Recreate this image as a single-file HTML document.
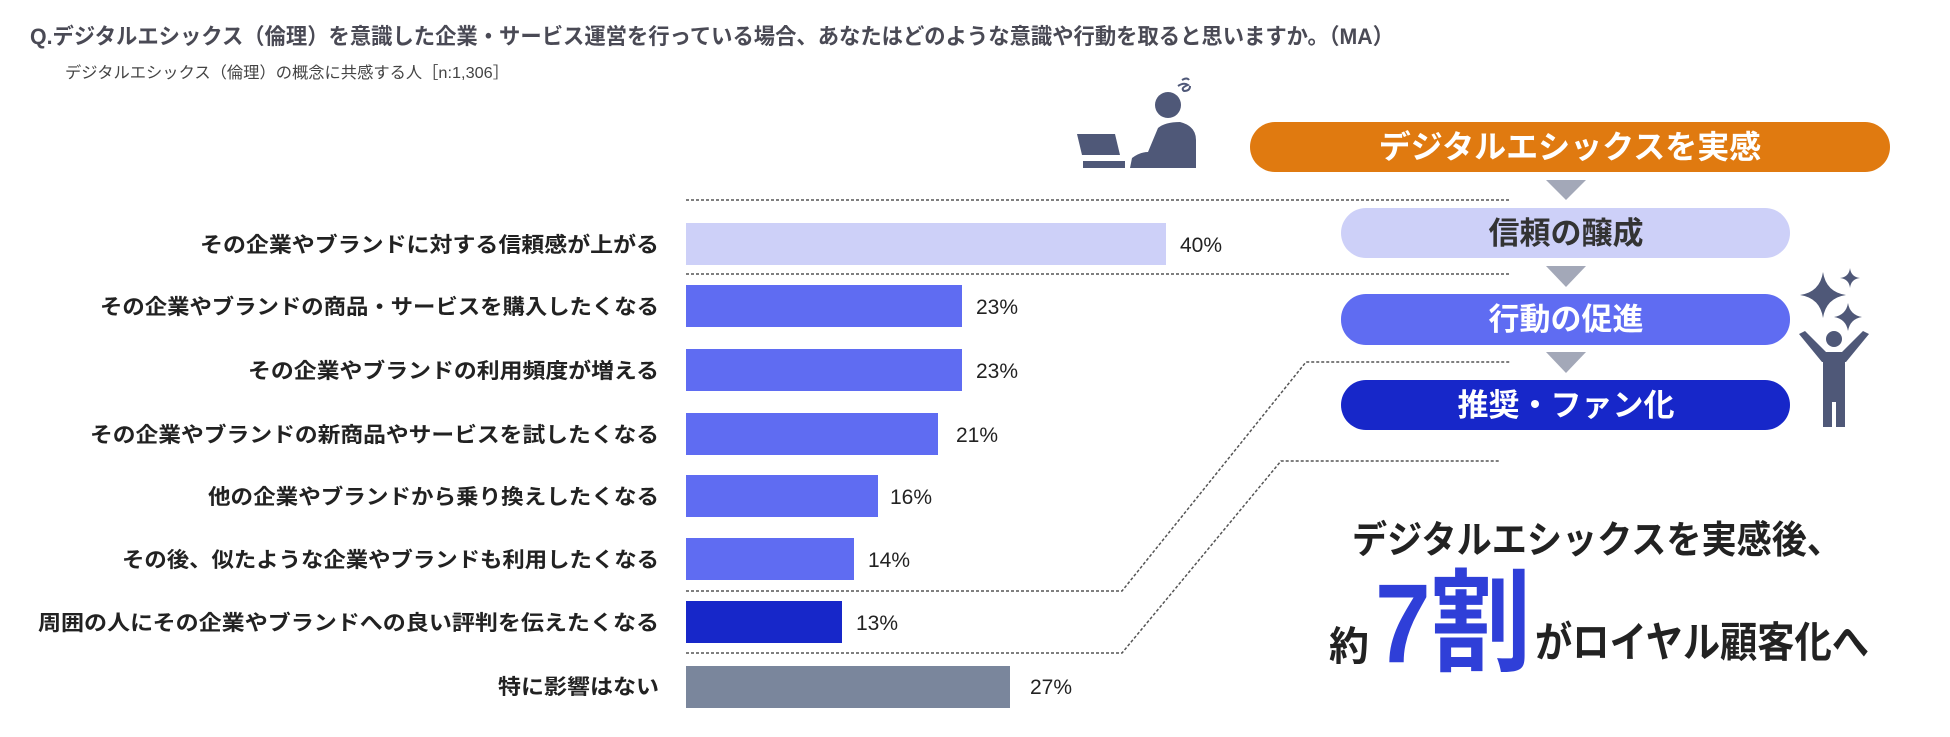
<!DOCTYPE html>
<html><head><meta charset="utf-8"><style>
html,body{margin:0;padding:0;background:#fff;}
svg{display:block;}
text{font-family:"Liberation Sans","Noto Sans CJK JP",sans-serif;}
</style></head><body>
<svg width="1950" height="737" viewBox="0 0 1950 737" xmlns="http://www.w3.org/2000/svg">
<text x="30" y="44" font-size="22" font-weight="bold" fill="#4a4a55" textLength="1364" lengthAdjust="spacingAndGlyphs">Q.デジタルエシックス（倫理）を意識した企業・サービス運営を行っている場合、あなたはどのような意識や行動を取ると思いますか。（MA）</text>
<text x="65" y="78" font-size="16" fill="#444" textLength="444" lengthAdjust="spacingAndGlyphs">デジタルエシックス（倫理）の概念に共感する人［n:1,306］</text>

<g stroke="#555" stroke-width="1.5" stroke-dasharray="3,2" fill="none">
<line x1="686" y1="200" x2="1510" y2="200"/>
<line x1="686" y1="274" x2="1510" y2="274"/>
<polyline points="686,591 1122,591 1306,362 1510,362"/>
<polyline points="686,653 1122,653 1281,461 1500,461"/>
</g>

<g font-size="21" font-weight="bold" fill="#222" text-anchor="end">
<text x="659" y="252" textLength="459" lengthAdjust="spacingAndGlyphs">その企業やブランドに対する信頼感が上がる</text>
<text x="659" y="314" textLength="559" lengthAdjust="spacingAndGlyphs">その企業やブランドの商品・サービスを購入したくなる</text>
<text x="659" y="378" textLength="411" lengthAdjust="spacingAndGlyphs">その企業やブランドの利用頻度が増える</text>
<text x="659" y="442" textLength="569" lengthAdjust="spacingAndGlyphs">その企業やブランドの新商品やサービスを試したくなる</text>
<text x="659" y="504" textLength="451" lengthAdjust="spacingAndGlyphs">他の企業やブランドから乗り換えしたくなる</text>
<text x="659" y="567" textLength="537" lengthAdjust="spacingAndGlyphs">その後、似たような企業やブランドも利用したくなる</text>
<text x="659" y="630" textLength="621" lengthAdjust="spacingAndGlyphs">周囲の人にその企業やブランドへの良い評判を伝えたくなる</text>
<text x="659" y="694" textLength="161" lengthAdjust="spacingAndGlyphs">特に影響はない</text>
</g>

<rect x="686" y="223" width="480" height="42" fill="#cdd0f8"/>
<rect x="686" y="285" width="276" height="42" fill="#5f6cf2"/>
<rect x="686" y="349" width="276" height="42" fill="#5f6cf2"/>
<rect x="686" y="413" width="252" height="42" fill="#5f6cf2"/>
<rect x="686" y="475" width="192" height="42" fill="#5f6cf2"/>
<rect x="686" y="538" width="168" height="42" fill="#5f6cf2"/>
<rect x="686" y="601" width="156" height="42" fill="#1727c9"/>
<rect x="686" y="666" width="324" height="42" fill="#7a869c"/>

<g font-size="21" fill="#222">
<text x="1180" y="252">40%</text>
<text x="976" y="314">23%</text>
<text x="976" y="378">23%</text>
<text x="956" y="442">21%</text>
<text x="890" y="504">16%</text>
<text x="868" y="567">14%</text>
<text x="856" y="630">13%</text>
<text x="1030" y="694">27%</text>
</g>

<!-- flow -->
<rect x="1250" y="122" width="640" height="50" rx="25" fill="#e07a10"/>
<text x="1570" y="158" font-size="32" font-weight="bold" fill="#fff" text-anchor="middle">デジタルエシックスを実感</text>
<rect x="1341" y="208" width="449" height="50" rx="25" fill="#cdd0f8"/>
<text x="1566" y="244" font-size="31" font-weight="bold" fill="#333" text-anchor="middle">信頼の醸成</text>
<rect x="1341" y="294" width="449" height="51" rx="25" fill="#5f6cf2"/>
<text x="1566" y="330" font-size="31" font-weight="bold" fill="#fff" text-anchor="middle">行動の促進</text>
<rect x="1341" y="380" width="449" height="50" rx="25" fill="#1727c9"/>
<text x="1566" y="416" font-size="31" font-weight="bold" fill="#fff" text-anchor="middle">推奨・ファン化</text>
<g fill="#a3a8b8">
<polygon points="1546,180 1586,180 1566,200"/>
<polygon points="1546,266 1586,266 1566,287"/>
<polygon points="1546,352 1586,352 1566,373"/>
</g>

<!-- laptop person -->
<g fill="#4f5878">
<polygon points="1077,134 1115,134 1120,155 1082,155"/>
<rect x="1083" y="161" width="42" height="7"/>
<circle cx="1168" cy="105" r="13"/>
<path d="M1130,168 L1132,158 Q1140,152 1148,152 L1158,128 Q1165,122 1180,122 Q1196,126 1196,140 L1196,168 Z"/>
</g>
<path d="M1178,86 q6,-4 10,-1 q-8,3 -4,6 q6,0 6,-5 M1182,80 q5,-3 7,0" stroke="#4f5878" stroke-width="2" fill="none"/>

<!-- star person -->
<g fill="#4f5878">
<path d="M1823,272 Q1826,292 1846,295 Q1826,298 1823,318 Q1820,298 1800,295 Q1820,292 1823,272 Z"/>
<path d="M1850,268 Q1851,277 1860,278 Q1851,279 1850,288 Q1849,279 1840,278 Q1849,277 1850,268 Z"/>
<path d="M1848,303 Q1850,315 1862,317 Q1850,319 1848,331 Q1846,319 1834,317 Q1846,315 1848,303 Z"/>
<circle cx="1834" cy="339" r="8"/>
<polygon points="1799,334 1805,331 1826,352 1842,352 1863,331 1869,334 1846,362 1822,362"/>
<rect x="1823" y="352" width="22" height="50"/>
<rect x="1823" y="398" width="9" height="29"/>
<rect x="1836" y="398" width="9" height="29"/>
</g>

<!-- summary -->
<text x="1352" y="553" font-size="38" font-weight="bold" fill="#222" textLength="490" lengthAdjust="spacingAndGlyphs">デジタルエシックスを実感後、</text>
<text x="1329" y="660" font-size="40" font-weight="bold" fill="#222">約</text>
<text x="1375" y="662" font-size="112" font-weight="bold" fill="#2f3fd8" textLength="156" lengthAdjust="spacingAndGlyphs">7割</text>
<text x="1535" y="657" font-size="42" font-weight="bold" fill="#222" textLength="334" lengthAdjust="spacingAndGlyphs">がロイヤル顧客化へ</text>
</svg>
</body></html>
